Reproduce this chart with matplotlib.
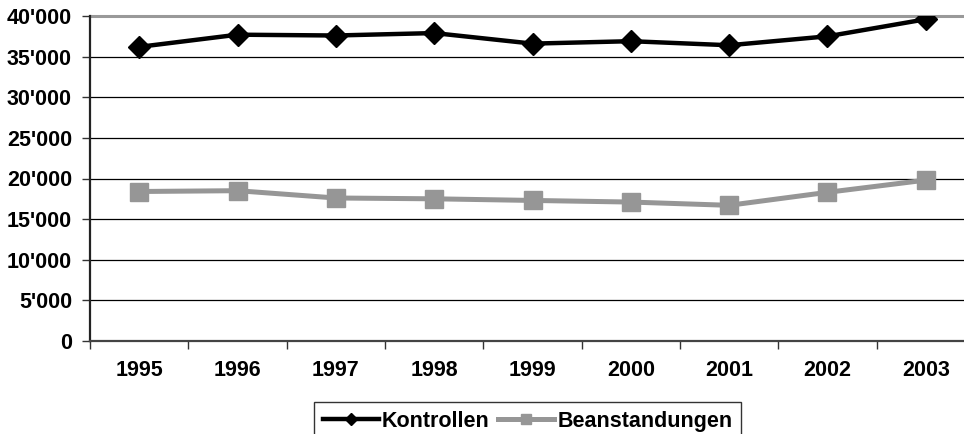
import matplotlib
matplotlib.use("Agg")
import matplotlib.pyplot as plt
from matplotlib.ticker import FuncFormatter, FixedLocator

plt.rcParams['font.family'] = ['Liberation Sans', 'DejaVu Sans']

years = ['1995', '1996', '1997', '1998', '1999', '2000', '2001', '2002', '2003']
kontrollen = [36200, 37700, 37600, 37900, 36600, 36900, 36400, 37500, 39600]
beanstandungen = [18400, 18500, 17600, 17500, 17300, 17100, 16700, 18300, 19800]
y_ticks = [0, 5000, 10000, 15000, 20000, 25000, 30000, 35000, 40000]

W, H = 964, 434
FS = 15.5
fig = plt.figure(figsize=(W / 100, H / 100), dpi=100)
ax = fig.add_axes([90 / W, (H - 341) / H, 885 / W, 325 / H])

x = list(range(len(years)))
ax.plot(x, kontrollen, color='black', lw=3.2, marker='D', ms=11,
        label='Kontrollen', zorder=4)
ax.plot(x, beanstandungen, color='#969696', lw=3.6, marker='s', ms=13,
        label='Beanstandungen', zorder=3)

ax.set_xlim(-0.5, len(years) - 0.5)
ax.set_ylim(0, 40000)

# horizontal grid
for v in y_ticks[1:-1]:
    ax.axhline(v, color='black', lw=0.9, zorder=1)
ax.axhline(40000, color='#999999', lw=2.2, zorder=1, clip_on=False)

ax.yaxis.set_major_locator(FixedLocator(y_ticks))
ax.yaxis.set_major_formatter(FuncFormatter(lambda v, p: f"{int(v):,}".replace(',', "'")))
ax.tick_params(axis='y', length=6, width=1, direction='out', pad=7,
               labelsize=FS, color='#333333')
for lab in ax.get_yticklabels():
    lab.set_fontweight('bold')

# category boundaries as ticks, labels centred between them
ax.set_xticks([i - 0.5 for i in x])
ax.set_xticklabels([])
ax.set_xticks(x, minor=True)
ax.set_xticklabels(years, minor=True, fontsize=FS, fontweight='bold')
ax.tick_params(axis='x', which='major', length=6, width=1, color='#333333')
ax.tick_params(axis='x', which='minor', length=0, pad=14)

for s in ['top', 'right']:
    ax.spines[s].set_visible(False)
ax.spines['left'].set_color('#222222')
ax.spines['left'].set_linewidth(1.6)
ax.spines['bottom'].set_color('#444444')
ax.spines['bottom'].set_linewidth(1.6)

leg = fig.legend(loc='upper left', bbox_to_anchor=(314 / W, 1 - 402 / H),
                 ncol=2, frameon=True, fancybox=False, edgecolor='black',
                 prop={'weight': 'bold', 'size': FS}, handlelength=2.6,
                 handletextpad=0.15, columnspacing=0.4, markerscale=0.6,
                 borderpad=0.4, borderaxespad=0)
leg.get_frame().set_linewidth(1.0)

fig.savefig('out.png', dpi=100)
